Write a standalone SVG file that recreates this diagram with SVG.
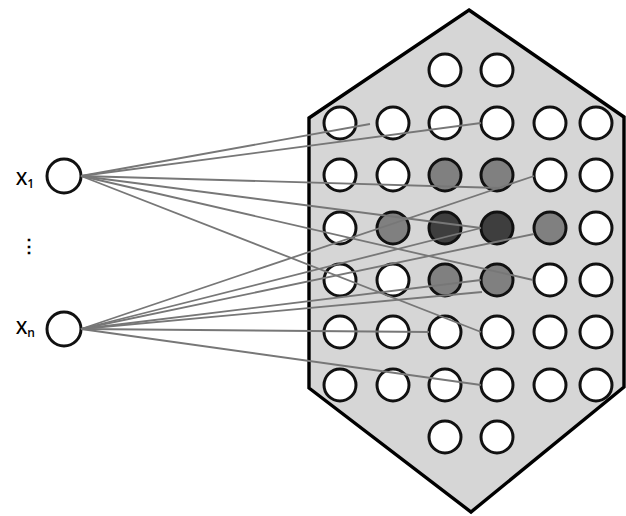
<svg xmlns="http://www.w3.org/2000/svg" width="626" height="516" viewBox="0 0 626 516">
  <style>
    .hex { fill: #d6d6d6; stroke: #000; stroke-width: 3.4; stroke-linejoin: miter; }
    .n { stroke: #111; stroke-width: 3; fill: #fff; }
    .mid { fill: #808080; }
    .dark { fill: #3e3e3e; }
    .inp { stroke: #111; stroke-width: 3; fill: #fff; }
    .lbl { font-family: "Open Sans", "Liberation Sans", sans-serif; font-size: 18px; font-weight: 600; fill: #000; }
    .sub { font-size: 12px; }
    .conn line { stroke: #777; stroke-width: 1.8; }
  </style>

  <!-- hexagonal map region -->
  <g id="map">
    <polygon class="hex" points="469,10 624,117 624,387 471,512 309,388 309,118"/>
  </g>

  <!-- input nodes -->
  <g id="x1">
    <circle class="inp" cx="64" cy="176" r="17"/>
    <text class="lbl" x="16" y="185">X<tspan class="sub" dy="3">1</tspan></text>
  </g>
  <g id="dots">
    <text class="lbl" x="20" y="252" style="font-weight:bold">⋮</text>
  </g>
  <g id="xn">
    <circle class="inp" cx="64" cy="329" r="17"/>
    <text class="lbl" x="16" y="334">X<tspan class="sub" dy="3">n</tspan></text>
  </g>

  <!-- map neurons, rows top to bottom -->
  <g id="r0c2"><circle class="n" cx="445" cy="70" r="16"/></g>
  <g id="r0c3"><circle class="n" cx="497" cy="70" r="16"/></g>

  <g id="r1c0"><circle class="n" cx="340" cy="123" r="16"/></g>
  <g id="r1c1"><circle class="n" cx="393" cy="123" r="16"/></g>
  <g id="r1c2"><circle class="n" cx="445" cy="123" r="16"/></g>
  <g id="r1c3"><circle class="n" cx="497" cy="123" r="16"/></g>
  <g id="r1c4"><circle class="n" cx="550" cy="123" r="16"/></g>
  <g id="r1c5"><circle class="n" cx="596" cy="123" r="16"/></g>

  <g id="r2c0"><circle class="n" cx="340" cy="175" r="16"/></g>
  <g id="r2c1"><circle class="n" cx="393" cy="175" r="16"/></g>
  <g id="r2c2"><circle class="n mid" cx="445" cy="175" r="16"/></g>
  <g id="r2c3"><circle class="n mid" cx="497" cy="175" r="16"/></g>
  <g id="r2c4"><circle class="n" cx="550" cy="175" r="16"/></g>
  <g id="r2c5"><circle class="n" cx="596" cy="175" r="16"/></g>

  <g id="r3c0"><circle class="n" cx="340" cy="228" r="16"/></g>
  <g id="r3c1"><circle class="n mid" cx="393" cy="228" r="16"/></g>
  <g id="r3c2"><circle class="n dark" cx="445" cy="228" r="16"/></g>
  <g id="r3c3"><circle class="n dark" cx="497" cy="228" r="16"/></g>
  <g id="r3c4"><circle class="n mid" cx="550" cy="228" r="16"/></g>
  <g id="r3c5"><circle class="n" cx="596" cy="228" r="16"/></g>

  <g id="r4c0"><circle class="n" cx="340" cy="280" r="16"/></g>
  <g id="r4c1"><circle class="n" cx="393" cy="280" r="16"/></g>
  <g id="r4c2"><circle class="n mid" cx="445" cy="280" r="16"/></g>
  <g id="r4c3"><circle class="n mid" cx="497" cy="280" r="16"/></g>
  <g id="r4c4"><circle class="n" cx="550" cy="280" r="16"/></g>
  <g id="r4c5"><circle class="n" cx="596" cy="280" r="16"/></g>

  <g id="r5c0"><circle class="n" cx="340" cy="332" r="16"/></g>
  <g id="r5c1"><circle class="n" cx="393" cy="332" r="16"/></g>
  <g id="r5c2"><circle class="n" cx="445" cy="332" r="16"/></g>
  <g id="r5c3"><circle class="n" cx="497" cy="332" r="16"/></g>
  <g id="r5c4"><circle class="n" cx="550" cy="332" r="16"/></g>
  <g id="r5c5"><circle class="n" cx="596" cy="332" r="16"/></g>

  <g id="r6c0"><circle class="n" cx="340" cy="385" r="16"/></g>
  <g id="r6c1"><circle class="n" cx="393" cy="385" r="16"/></g>
  <g id="r6c2"><circle class="n" cx="445" cy="385" r="16"/></g>
  <g id="r6c3"><circle class="n" cx="497" cy="385" r="16"/></g>
  <g id="r6c4"><circle class="n" cx="550" cy="385" r="16"/></g>
  <g id="r6c5"><circle class="n" cx="596" cy="385" r="16"/></g>

  <g id="r7c2"><circle class="n" cx="445" cy="437" r="16"/></g>
  <g id="r7c3"><circle class="n" cx="497" cy="437" r="16"/></g>

  <!-- weight connections from the inputs -->
  <g id="connectors" class="conn">
    <!-- from X1 -->
    <line x1="81" y1="176" x2="370" y2="124"/>
    <line x1="81" y1="176" x2="481" y2="123"/>
    <line x1="81" y1="176" x2="500" y2="188"/>
    <line x1="81" y1="176" x2="481" y2="228"/>
    <line x1="81" y1="176" x2="533" y2="280"/>
    <line x1="81" y1="176" x2="481" y2="332"/>
    <!-- from Xn -->
    <line x1="81" y1="329" x2="534" y2="176"/>
    <line x1="81" y1="329" x2="481" y2="228"/>
    <line x1="81" y1="329" x2="534" y2="234"/>
    <line x1="81" y1="329" x2="481" y2="280"/>
    <line x1="81" y1="329" x2="482" y2="292"/>
    <line x1="81" y1="329" x2="429" y2="332"/>
    <line x1="81" y1="329" x2="481" y2="385"/>
  </g>
</svg>
